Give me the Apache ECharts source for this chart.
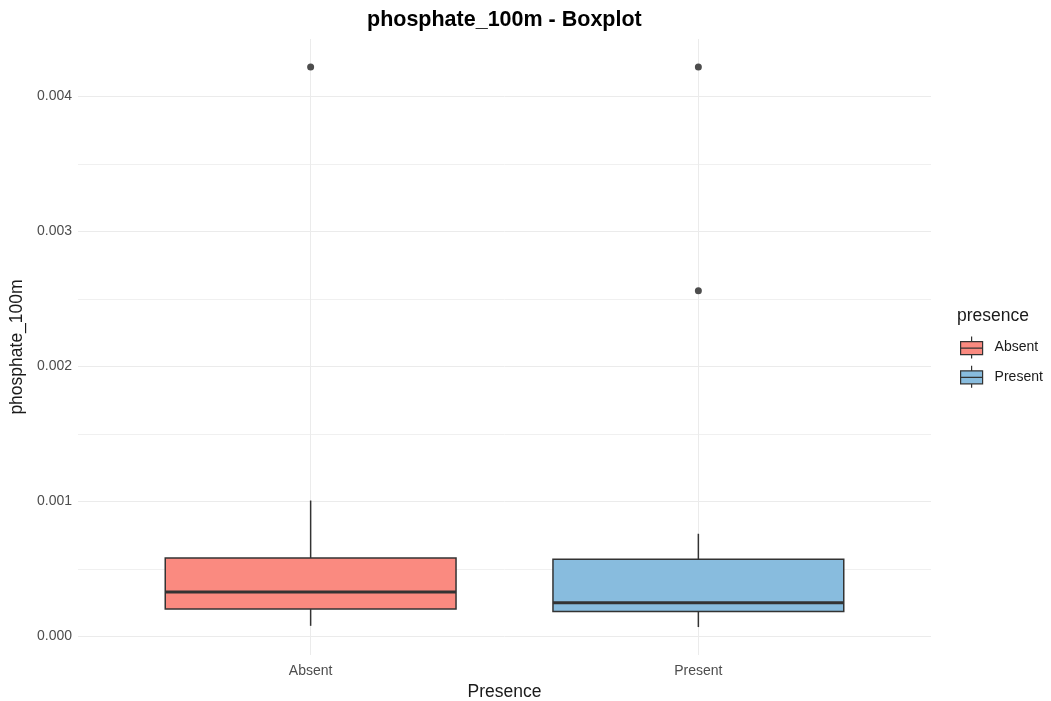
<!DOCTYPE html>
<html>
<head>
<meta charset="utf-8">
<script src="https://cdn.jsdelivr.net/npm/echarts@6/dist/echarts.min.js"></script>
<style>
  html, body { margin: 0; padding: 0; background: #ffffff; }
  #chart { width: 1051px; height: 701px; }
</style>
</head>
<body>
<div id="chart"></div>
<script>
// ---- data ----
const categories = ['Absent', 'Present'];
const lowerWhisker = [0.000079, 0.000070];
const q1 = [0.000203, 0.000185];
const median = [0.000329, 0.000250];
const q3 = [0.000581, 0.000573];
const upperWhisker = [0.001007, 0.000761];
const outlierCategory = ['Absent', 'Present', 'Present'];
const outlierValue = [0.004218, 0.004218, 0.002560];
const yMajorTicks = [0, 0.001, 0.002, 0.003, 0.004];
const yMinorTicks = [0.0005, 0.0015, 0.0025, 0.0035];
const fillColors = ['#FA8A80', '#88BCDE'];

// ---- chart ----
const FONT = '"Liberation Sans", Arial, sans-serif';
const BOX_HALF = 0.375;
const EDGE = '#333333';

function catX(name) { return categories.indexOf(name) + 1; }

function renderBox(params, api) {
  const x = api.value(0);
  const cx = api.coord([x, 0])[0];
  const left = api.coord([x - BOX_HALF, 0])[0];
  const right = api.coord([x + BOX_HALF, 0])[0];
  const yLow = api.coord([x, api.value(1)])[1];
  const yQ1 = api.coord([x, api.value(2)])[1];
  const yMed = api.coord([x, api.value(3)])[1];
  const yQ3 = api.coord([x, api.value(4)])[1];
  const yHigh = api.coord([x, api.value(5)])[1];
  const color = fillColors[categories.indexOf(params.seriesName)];
  return {
    type: 'group',
    children: [
      { type: 'line', shape: { x1: cx, y1: yHigh, x2: cx, y2: yQ3 }, style: { stroke: EDGE, lineWidth: 1.5 } },
      { type: 'line', shape: { x1: cx, y1: yQ1, x2: cx, y2: yLow }, style: { stroke: EDGE, lineWidth: 1.5 } },
      { type: 'rect', shape: { x: left, y: yQ3, width: right - left, height: yQ1 - yQ3 },
        style: { fill: color, stroke: EDGE, lineWidth: 1.5 } },
      { type: 'line', shape: { x1: left, y1: yMed, x2: right, y2: yMed }, style: { stroke: EDGE, lineWidth: 3 } }
    ]
  };
}

const boxSeries = categories.map((c, i) => ({
  name: c,
  type: 'custom',
  renderItem: renderBox,
  itemStyle: { color: fillColors[i], borderColor: EDGE, borderWidth: 1 },
  encode: { x: 0, y: [1, 2, 3, 4, 5] },
  data: [[i + 1, lowerWhisker[i], q1[i], median[i], q3[i], upperWhisker[i]]],
  z: 3
}));

const outlierSeries = {
  name: 'outliers',
  type: 'scatter',
  symbol: 'circle',
  symbolSize: 7,
  itemStyle: { color: '#4D4D4D', opacity: 1 },
  data: outlierCategory.map((c, i) => [catX(c), outlierValue[i]]),
  z: 4
};

const gridLine = { show: true, lineStyle: { color: '#EBEBEB', width: 1 } };

const option = {
  animation: false,
  backgroundColor: '#ffffff',
  textStyle: { fontFamily: FONT },
  title: [
    {
      text: 'phosphate_100m - Boxplot',
      left: 367, top: 8, padding: 0,
      textStyle: { fontFamily: FONT, fontSize: 21.5, fontWeight: 'bold', color: '#000000', lineHeight: 24 }
    },
    {
      text: 'presence',
      left: 957, top: 306, padding: 0,
      textStyle: { fontFamily: FONT, fontSize: 17.5, fontWeight: 'normal', color: '#1a1a1a', lineHeight: 20 }
    }
  ],
  legend: {
    data: categories,
    orient: 'vertical',
    left: 960, top: 336, padding: 0,
    itemWidth: 24, itemHeight: 22, itemGap: 6,
    icon: 'path://M12 0 L12 5 M1 5 L23 5 L23 18 L1 18 Z M1 11.5 L23 11.5 M12 18 L12 22',
    itemStyle: { borderColor: EDGE, borderWidth: 1.2 },
    textStyle: { fontFamily: FONT, fontSize: 14, color: '#1a1a1a', padding: [0, 0, 0, 6] }
  },
  grid: { left: 78, right: 120, top: 39, bottom: 46, containLabel: false, outerBoundsMode: 'none' },
  xAxis: {
    type: 'value',
    min: 0.4, max: 2.6,
    name: 'Presence',
    nameLocation: 'middle',
    nameGap: 26,
    nameTextStyle: { fontFamily: FONT, fontSize: 17.5, color: '#1a1a1a' },
    axisLine: { show: false },
    axisTick: { show: false, customValues: [1, 2] },
    axisLabel: {
      customValues: [1, 2],
      formatter: v => categories[Math.round(v) - 1],
      fontFamily: FONT, fontSize: 14, color: '#4D4D4D', margin: 9
    },
    splitLine: gridLine
  },
  yAxis: [
    {
      type: 'value',
      min: -0.000137, max: 0.004425,
      name: 'phosphate_100m',
      nameLocation: 'middle',
      nameGap: 50,
      nameTextStyle: { fontFamily: FONT, fontSize: 17.5, color: '#1a1a1a' },
      axisLine: { show: false },
      axisTick: { show: false, customValues: yMajorTicks },
      axisLabel: {
        customValues: yMajorTicks,
        formatter: v => v.toFixed(3),
        fontFamily: FONT, fontSize: 14, color: '#4D4D4D', margin: 6
      },
      splitLine: gridLine
    },
    {
      type: 'value',
      position: 'left',
      min: -0.000137, max: 0.004425,
      axisLine: { show: false },
      axisTick: { show: false, customValues: yMinorTicks },
      axisLabel: { show: false, customValues: yMinorTicks },
      splitLine: { show: true, lineStyle: { color: '#F0F0F0', width: 1 } }
    }
  ],
  series: boxSeries.concat([outlierSeries])
};

const chart = echarts.init(document.getElementById('chart'), null, { renderer: 'canvas' });
chart.setOption(option);
</script>
</body>
</html>
